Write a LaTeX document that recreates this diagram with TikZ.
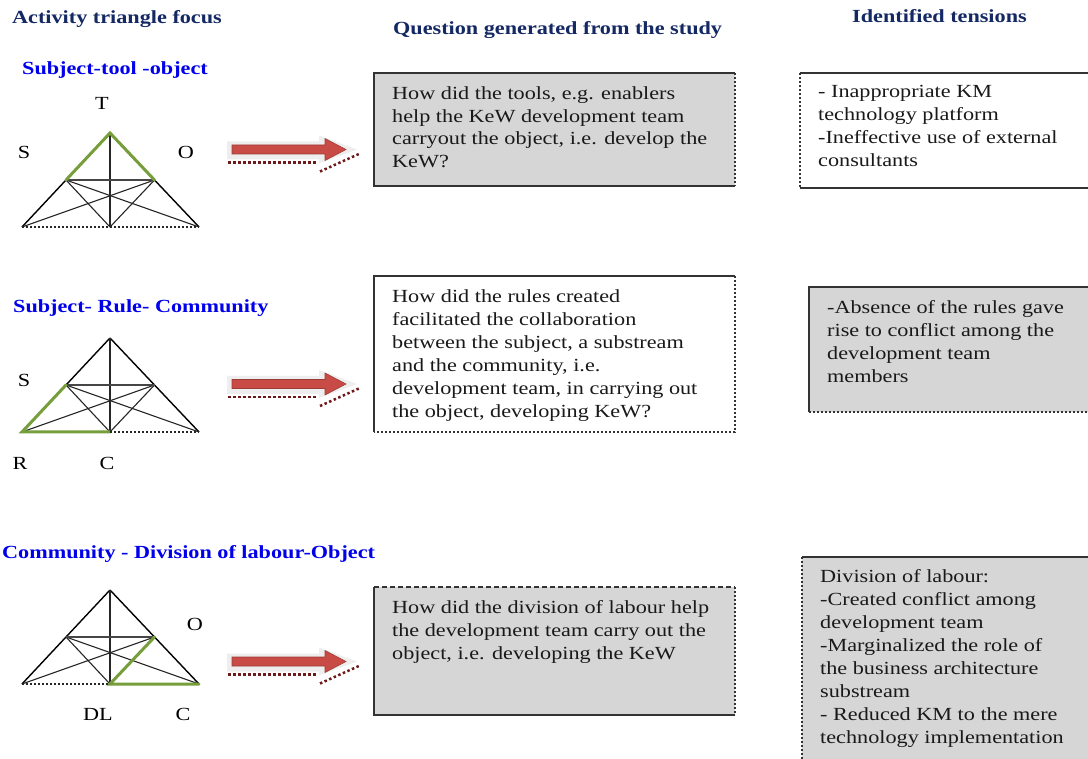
\documentclass[tikz,border=0pt]{standalone}
\usepackage{fontspec}
\setmainfont{Liberation Serif}[FakeStretch=1.2]
\definecolor{navy}{RGB}{20,40,100}
\definecolor{hblue}{RGB}{0,0,235}
\definecolor{grn}{RGB}{118,158,58}
\definecolor{arrred}{RGB}{200,75,70}
\definecolor{shred}{RGB}{110,25,25}
\definecolor{boxgray}{RGB}{214,214,214}
\tikzset{
  body/.style={font=\fontsize{18.5}{23}\selectfont, align=left, inner sep=0pt, anchor=north west, text=black!90},
  headn/.style={font=\fontsize{18.5}{23}\selectfont\bfseries, text=navy, inner sep=0pt, anchor=base west},
  headb/.style={font=\fontsize{18.5}{23}\selectfont\bfseries, text=hblue, inner sep=0pt, anchor=base west},
  lab/.style={font=\fontsize{18.5}{23}\selectfont, inner sep=0pt, anchor=base},
  boxn/.style={inner sep=0pt, outer sep=0pt, anchor=north west, draw=none},
  edge/.style={line width=1.6pt, black!80},
  edot/.style={line width=1.6pt, black!80, dash pattern=on 1.6pt off 2.4pt},
  edash/.style={line width=1.6pt, black!80, dash pattern=on 5pt off 3pt},
  side/.style={line width=1.4pt, black},
  innerl/.style={line width=1.1pt, black!85},
  midl/.style={line width=2.4pt, gray!55!black},
  greenl/.style={line width=3pt, grn, line cap=round},
  dotbase/.style={line width=2pt, black!85, dash pattern=on 2pt off 2pt},
  triangle/.pic={
    \coordinate (-A) at (0,0);
    \coordinate (-BL) at (-88,94);
    \coordinate (-BR) at (89,94);
    \coordinate (-B) at (0,94);
    \coordinate (-ML) at (-44,47);
    \coordinate (-MR) at (44.5,47);
    \draw[side] (-A) -- (-BL);
    \draw[side] (-A) -- (-BR);
    \draw[innerl] (-A) -- (-B);
    \draw[innerl] (-ML) -- (-BR);
    \draw[innerl] (-MR) -- (-BL);
    \draw[innerl] (-ML) -- (-B);
    \draw[innerl] (-MR) -- (-B);
    \draw[midl] (-ML) -- (-MR);
  },
  bigarrow/.pic={
    \fill[gray!13] (0,-8) -- (92,-8) -- (92,-14) -- (130,0) -- (92,14) -- (92,10) -- (0,10) -- cycle;
    \draw[shred, line width=2.5pt, dash pattern=on 2.5pt off 2.5pt] (1,13) -- (89,13);
    \draw[shred, line width=2.5pt, dash pattern=on 2.5pt off 2.5pt] (93,22) -- (133,4);
    \fill[arrred, draw=arrred!80!black, line width=0.6pt] (5,-4.5) -- (98,-4.5) -- (98,-11) -- (119,0) -- (98,11) -- (98,4.5) -- (5,4.5) -- cycle;
  }
}
\begin{document}
\begin{tikzpicture}[x=1pt,y=-1pt]
\useasboundingbox (0,0) rectangle (1088,759);
\fill[white] (0,0) rectangle (1088,759);

% column headings
\node[headn] (h1) at (12,24) {Activity triangle focus};
\node[headn] (h2) at (393,35) {Question generated from the study};
\node[headn] (h3) at (852,23) {Identified tensions};

% row headings
\node[headb] (r1) at (22,75) {Subject-tool -object};
\node[headb] (r2) at (13,313) {Subject- Rule- Community};
\node[headb] (r3) at (2,558) {Community - Division of labour-Object};

% triangle 1
\pic (tri1) at (110,133) {triangle};
\draw[greenl] (tri1-ML) -- (tri1-A) -- (tri1-MR);
\draw[dotbase] (tri1-BL) -- (tri1-BR);
\node[lab] (l1t) at (102,110) {T};
\node[lab] (l1s) at (24,159) {S};
\node[lab] (l1o) at (186,159) {O};

% triangle 2
\pic (tri2) at (110,338) {triangle};
\draw[greenl] (tri2-ML) -- (tri2-BL) -- (tri2-B);
\draw[dotbase] (tri2-B) -- (tri2-BR);
\node[lab] (l2s) at (24,387) {S};
\node[lab] (l2r) at (20,469) {R};
\node[lab] (l2c) at (107,469) {C};

% triangle 3
\pic (tri3) at (110,590) {triangle};
\draw[greenl] (tri3-MR) -- (tri3-B) -- (tri3-BR);
\draw[dotbase] (tri3-BL) -- (tri3-B);
\node[lab] (l3o) at (195,630) {O};
\node[lab] (l3d) at (98,720) {DL};
\node[lab] (l3c) at (183,720) {C};

% arrows
\pic (a1) at (227,149.5) {bigarrow};
\pic (a2) at (227,384) {bigarrow};
\pic (a3) at (227,661.5) {bigarrow};

% question boxes
\node[boxn, fill=boxgray, minimum width=361pt, minimum height=113pt] (q1) at (374,73) {};
\draw[edge] (q1.north east) -- (q1.north west) -- (q1.south west) -- (q1.south east);
\draw[edot] (q1.north east) -- (q1.south east);
\node[body, font=\fontsize{18.5}{22.5}\selectfont] (q1t) at (392,84) {\strut How did the tools, e.g. enablers\\help the KeW development team\\carryout the object, i.e. develop the\\KeW?};

\node[boxn, fill=white, minimum width=361pt, minimum height=156pt] (q2) at (374,276) {};
\draw[edge] (q2.south west) -- (q2.north west) -- (q2.north east);
\draw[edot] (q2.north east) -- (q2.south east) -- (q2.south west);
\node[body] (q2t) at (392,286) {\strut How did the rules created\\facilitated the collaboration\\between the subject, a substream\\and the community, i.e.\\development team, in carrying out\\the object, developing KeW?};

\node[boxn, fill=boxgray, minimum width=361pt, minimum height=128pt] (q3) at (374,587) {};
\draw[edash] (q3.north west) -- (q3.north east);
\draw[edge] (q3.north west) -- (q3.south west) -- (q3.south east);
\draw[edot] (q3.north east) -- (q3.south east);
\node[body] (q3t) at (392,597) {\strut How did the division of labour help\\the development team carry out the\\object, i.e. developing the KeW};

% tension boxes
\node[boxn, fill=white, minimum width=290pt, minimum height=115pt] (k1) at (800,73) {};
\draw[edge] (k1.north east) -- (k1.north west);
\draw[edot] (k1.north west) -- (k1.south west);
\draw[edge] (k1.south west) -- (k1.south east);
\node[body] (k1t) at (818,81) {\strut - Inappropriate KM\\technology platform\\-Ineffective use of external\\consultants};

\node[boxn, fill=boxgray, minimum width=281pt, minimum height=125pt] (k2) at (809,287) {};
\draw[edge] (k2.south west) -- (k2.north west) -- (k2.north east);
\draw[edot] (k2.south west) -- (k2.south east);
\node[body] (k2t) at (827,297) {\strut -Absence of the rules gave\\rise to conflict among the\\development team\\members};

\node[boxn, fill=boxgray, minimum width=288pt, minimum height=205pt] (k3) at (802,557) {};
\draw[edge] (k3.north west) -- (k3.north east);
\draw[edot] (k3.north west) -- (k3.south west);
\node[body] (k3t) at (820,566) {\strut Division of labour:\\-Created conflict among\\development team\\-Marginalized the role of\\the business architecture\\substream\\- Reduced KM to the mere\\technology implementation};
\end{tikzpicture}
\end{document}
